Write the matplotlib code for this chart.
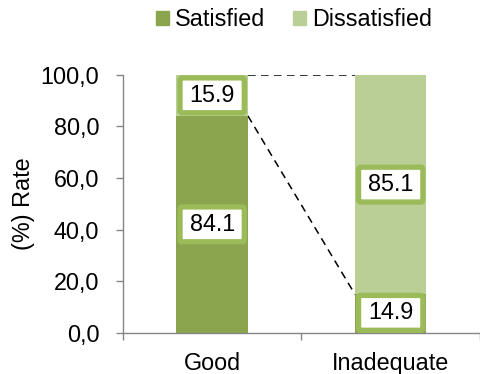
import numpy as np
import matplotlib
matplotlib.use("Agg")
import matplotlib.pyplot as plt
from matplotlib.patches import FancyBboxPatch, Patch

plt.rcParams['font.family'] = ['Liberation Sans', 'DejaVu Sans']

# data
groups = ["Good", "Inadequate"]
satisfied = [84.1, 14.9]
dissatisfied = [15.9, 85.1]
yticks = [0, 20, 40, 60, 80, 100]
ytick_labels = ["0,0", "20,0", "40,0", "60,0", "80,0", "100,0"]

dark = "#8AA54E"
light = "#BACF96"
edge = "#9BBB59"
fs = 16.8

fig = plt.figure(figsize=(4.8, 3.74), dpi=100)
ax = fig.add_axes([0.256, 0.11, 0.744, 0.69])

x = np.arange(len(groups))
w = 0.4
ax.bar(x, satisfied, w, color=dark, zorder=2)
ax.bar(x, dissatisfied, w, bottom=satisfied, color=light, zorder=2)

# series lines between the two stacks
tops = [s + d for s, d in zip(satisfied, dissatisfied)]
ax.plot([x[0] + w / 2, x[1] - w / 2], satisfied, color="black", lw=1.1,
        ls=(0, (5, 3.5)), zorder=1)
ax.plot([x[0] + w / 2, x[1] - w / 2], tops, color="black", lw=1.1,
        ls=(0, (5, 3.5)), zorder=1)

ax.set_xlim(-0.5, 1.5)
ax.set_ylim(0, 100)

# value labels in boxes
bw, bh = 0.36, 13.5
aspect = (ax.get_position().height * 374 / 100) / (ax.get_position().width * 480 / 2)
aspect = 1 / aspect
for i in range(len(groups)):
    for val, mid in [(satisfied[i], satisfied[i] / 2),
                     (dissatisfied[i], satisfied[i] + dissatisfied[i] / 2)]:
        cy = min(max(mid, bh / 2 + 1.0), 100 - bh / 2 - 1.0)
        box = FancyBboxPatch((x[i] - bw / 2, cy - bh / 2), bw, bh,
                             boxstyle="round,pad=0,rounding_size=0.012",
                             mutation_aspect=aspect,
                             facecolor="white", edgecolor=edge, lw=3.8,
                             zorder=3)
        ax.add_patch(box)
        ax.text(x[i], cy, f"{val:.1f}", ha="center", va="center",
                fontsize=fs, zorder=4)

ax.set_yticks(yticks)
ax.set_yticklabels(ytick_labels, fontsize=fs)
ax.set_xticks(x)
ax.set_xticklabels(groups, fontsize=fs)
ax.set_xticks([-0.5, 0.5, 1.5], minor=True)
ax.tick_params(axis="x", which="major", length=0, pad=14)
ax.tick_params(axis="x", which="minor", length=5, color="#868686", width=1)
ax.tick_params(axis="y", length=5, color="#868686", width=1, pad=12)

for s in ["top", "right"]:
    ax.spines[s].set_visible(False)
for s in ["left", "bottom"]:
    ax.spines[s].set_color("#868686")
    ax.spines[s].set_linewidth(1)

ax.set_ylabel("(%) Rate", fontsize=fs)
ax.yaxis.set_label_coords(-0.245, 0.5)

handles = [Patch(color=dark, label="Satisfied"),
           Patch(color=light, label="Dissatisfied")]
fig.legend(handles=handles, loc="center", bbox_to_anchor=(0.613, 0.947),
           ncol=2, frameon=False, fontsize=fs, handlelength=0.55,
           handleheight=0.55, handletextpad=0.25, columnspacing=1.2)

fig.savefig("out.png", dpi=100)
